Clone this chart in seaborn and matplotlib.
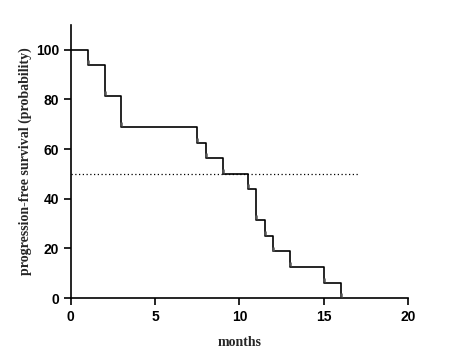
#!/usr/bin/env python3
import pandas as pd
import numpy as np
import matplotlib
matplotlib.use("Agg")
import matplotlib.pyplot as plt
import seaborn as sns

# event times (months) and survival after each event (%)
times = [0, 1, 2, 3, 7.5, 8, 9, 10.5, 11, 11.5, 12, 13, 15, 16]
survival = [100, 93.75, 81.25, 68.75, 62.5, 56.25, 50, 43.75, 31.25, 25, 18.75, 12.5, 6.25, 0]
median_level = 50
median_line_end = 17
x_ticks = [0, 5, 10, 15, 20]
y_ticks = [0, 20, 40, 60, 80, 100]


def main():
    sns.set_style("ticks")
    df = pd.DataFrame({"months": times, "pfs": survival})

    fig = plt.figure(figsize=(4.54, 3.63), dpi=100)
    ax = fig.add_axes([0.156, 0.179, 0.743, 0.752])

    sns.lineplot(data=df, x="months", y="pfs", drawstyle="steps-post",
                 color="black", linewidth=1.2, ax=ax, errorbar=None)
    # little marks sitting just above each drop corner
    marks = df.iloc[1:].copy()
    marks["pfs"] = marks["pfs"] + 1.2
    sns.scatterplot(data=marks, x="months", y="pfs", marker="|",
                    s=12, color="#555555", linewidth=1.8, ax=ax, zorder=3)

    ax.hlines(median_level, 0, median_line_end, colors="black",
              linestyles=(0, (1, 2)), linewidth=0.9)

    ax.set_xlim(0, 20)
    ax.set_ylim(0, 110)
    ax.set_xticks(x_ticks)
    ax.set_yticks(y_ticks)
    sns.despine(ax=ax)
    for s in ["left", "bottom"]:
        ax.spines[s].set_linewidth(1.2)
        ax.spines[s].set_color("black")
    ax.tick_params(direction="out", length=5, width=1.2, colors="black")
    for lab in ax.get_xticklabels() + ax.get_yticklabels():
        lab.set_fontfamily("Liberation Sans")
        lab.set_fontweight("bold")
        lab.set_fontsize(10)

    ax.set_xlabel("months", fontfamily="Liberation Serif", fontweight="bold",
                  fontsize=10, labelpad=9)
    ax.set_ylabel("progression-free survival (probability)",
                  fontfamily="Liberation Serif", fontweight="bold",
                  fontsize=10, labelpad=3)

    fig.savefig("out.png", dpi=100)


if __name__ == "__main__":
    main()
